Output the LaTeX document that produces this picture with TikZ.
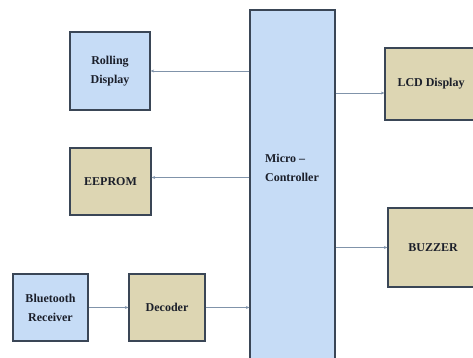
\documentclass[tikz,border=0pt]{standalone}
\usepackage{fontspec}
\setmainfont{Liberation Serif}
\usepackage{xcolor}
\usepackage{tikz}
\usetikzlibrary{positioning, arrows.meta, calc}
\definecolor{mcBlue}{HTML}{C6DCF6}
\definecolor{mcTan}{HTML}{DDD6B3}
\definecolor{mcEdge}{HTML}{3A4656}
\definecolor{mcWire}{HTML}{8093AA}
\definecolor{mcInk}{HTML}{1B1F2A}
\tikzset{
  block/.style={
    rectangle,
    draw=mcEdge, line width=1.3pt,
    fill=#1,
    inner sep=3pt,
    align=center,
    text=mcInk,
    font=\fontsize{12}{19}\selectfont\bfseries
  },
  wire/.style={
    -{Stealth[length=3.5pt, width=3pt]},
    mcWire, line width=0.6pt
  }
}

\begin{document}
\begin{tikzpicture}[x=1pt, y=-1pt]
        \useasboundingbox (0,0) rectangle (473,358);
        \clip (0,0) rectangle (473,358);
        \node[block=mcBlue, minimum width=80pt, minimum height=78pt] (roll) at (110,71) {Rolling\\Display};
        \node[block=mcTan, minimum width=81pt, minimum height=67pt] (eeprom) at (110.5,181.5) {EEPROM};
        \node[block=mcBlue, minimum width=75pt, minimum height=67pt] (bt) at (50.5,307.5) {Bluetooth\\Receiver};
        \node[block=mcTan, minimum width=76pt, minimum height=67pt] (dec) at (167,307.5) {Decoder};
        \node[block=mcBlue, minimum width=85pt, minimum height=352pt] (mc) at (292.5,186) {};
        \node[align=left, text=mcInk, font=\fontsize{12}{19}\selectfont\bfseries] (mclabel) at (292,168) {Micro --\\Controller};
        \node[block=mcTan, minimum width=92pt, minimum height=72pt] (lcd) at (431,84) {LCD Display};
        \node[block=mcTan, minimum width=90pt, minimum height=79pt] (buzz) at (433,247.5) {BUZZER};
        \draw[wire] (mc.west |- roll.east) -- (roll.east);
        \draw[wire] ([yshift=4pt]mc.west |- eeprom.east) -- ([yshift=4pt]eeprom.east);
        \draw[wire] (bt.east) -- (dec.west);
        \draw[wire] (dec.east) -- (mc.west |- dec.east);
        \draw[wire] ([yshift=-9pt]mc.east |- lcd.west) -- ([yshift=-9pt]lcd.west);
        \draw[wire] (mc.east |- buzz.west) -- (buzz.west);
      \end{tikzpicture}
\end{document}
